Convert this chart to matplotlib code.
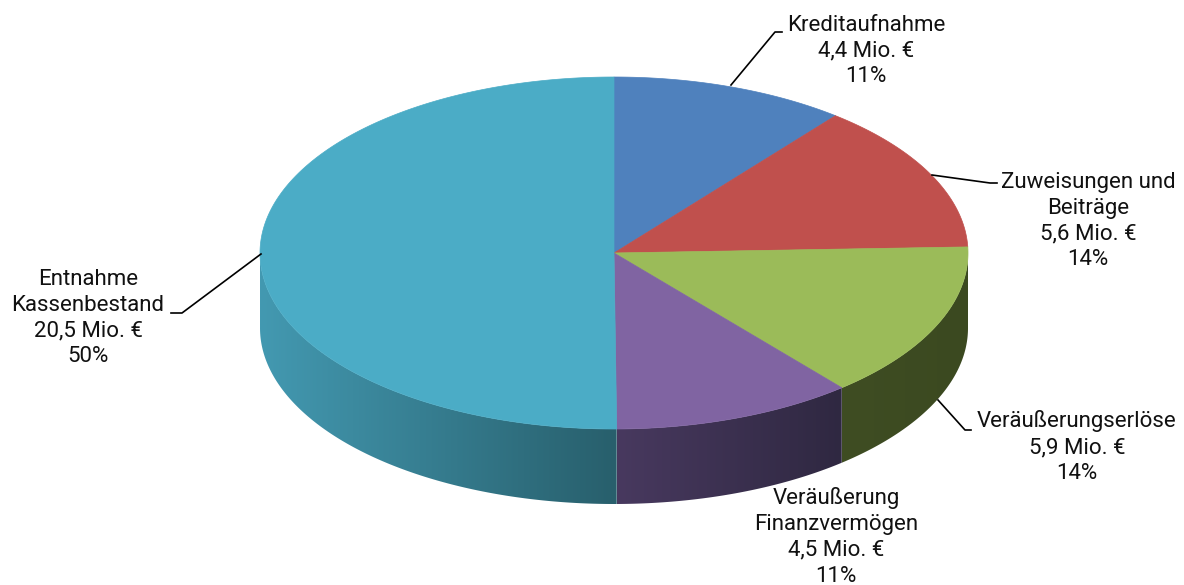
import matplotlib.pyplot as plt
import numpy as np
from matplotlib.patches import Polygon
from matplotlib.colors import LinearSegmentedColormap

plt.rcParams['font.family'] = ['Roboto', 'DejaVu Sans']

# data
names = ["Kreditaufnahme", "Zuweisungen und\nBeiträge", "Veräußerungserlöse",
         "Veräußerung\nFinanzvermögen", "Entnahme\nKassenbestand"]
values = [4.4, 5.6, 5.9, 4.5, 20.5]
top_colors = ["#4f81bd", "#c0504d", "#9bbb59", "#8064a2", "#4bacc6"]
side_colors = [("#3b6190", "#2c4a70"), ("#8f3b39", "#6e2c2a"), ("#3f4d23", "#3b4920"),
               ("#48395f", "#2f2841"), ("#4399b1", "#285f6c")]

# geometry in pixels
cx, cy = 614, 253
rx, ry = 354, 176
depth = 75

fig = plt.figure(figsize=(11.84, 5.85), dpi=100)
ax = fig.add_axes([0, 0, 1, 1])
ax.set_xlim(0, 1184)
ax.set_ylim(585, 0)
ax.axis('off')


def edge(th, dy=0):
    return cx + rx * np.sin(th), cy - ry * np.cos(th) + dy


total = sum(values)
cum = np.concatenate([[0], np.cumsum(values)]) / total * 2 * np.pi

# side walls (front half only)
for i in range(len(values)):
    a = max(cum[i], np.pi / 2)
    b = min(cum[i + 1], 3 * np.pi / 2)
    if b <= a:
        continue
    th = np.linspace(a, b, 200)
    x1, y1 = edge(th)
    x2, y2 = edge(th[::-1], depth)
    pts = np.column_stack([np.concatenate([x1, x2]), np.concatenate([y1, y2])])
    poly = Polygon(pts, closed=True, facecolor='none', edgecolor='none', transform=ax.transData)
    ax.add_patch(poly)
    cmap = LinearSegmentedColormap.from_list("s%d" % i, side_colors[i])
    grad = np.linspace(0, 1, 256).reshape(1, -1)
    xmin, xmax = pts[:, 0].min(), pts[:, 0].max()
    ymin, ymax = pts[:, 1].min(), pts[:, 1].max()
    im = ax.imshow(grad, cmap=cmap, extent=[xmin, xmax, ymax, ymin], aspect='auto',
                   interpolation='bilinear', zorder=1)
    im.set_clip_path(poly)

# top faces
for i in range(len(values)):
    th = np.linspace(cum[i], cum[i + 1], 300)
    x, y = edge(th)
    pts = np.column_stack([np.concatenate([[cx], x]), np.concatenate([[cy], y])])
    ax.add_patch(Polygon(pts, closed=True, facecolor=top_colors[i],
                         edgecolor=top_colors[i], linewidth=0.5, zorder=2))

# labels
pcts = [round(v / total * 100) for v in values]
texts = [f"{n}\n{str(v).replace('.', ',')} Mio. €\n{p}%" for n, v, p in zip(names, values, pcts)]
label_pos = [(866, 51), (1088, 221), (1077, 447), (836, 537), (88, 318)]
leaders = [[(731, 85), (775, 32), (782, 32)],
           [(932, 175), (990, 183), (997, 183)],
           [(938, 400), (965, 430), (971, 430)],
           None,
           [(261, 254), (182, 313), (171, 313)]]

for t, (tx, ty), ld in zip(texts, label_pos, leaders):
    ax.text(tx, ty, t, ha='center', va='center', fontsize=16, linespacing=1.3,
            color='#111111', zorder=4)
    if ld is not None:
        xs, ys = zip(*ld)
        ax.plot(xs, ys, color='black', linewidth=1.2, zorder=3)

plt.savefig("out.png", dpi=100)
